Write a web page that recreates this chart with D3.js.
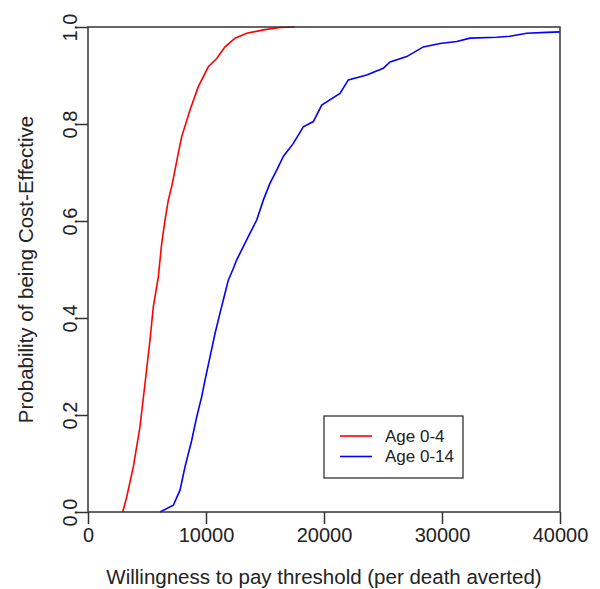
<!DOCTYPE html>
<html>
<head>
<meta charset="utf-8">
<script src="https://cdn.jsdelivr.net/npm/d3@7"></script>
<style>
  body { margin: 0; background: #fff; }
  svg { font-family: "Liberation Sans", Arial, sans-serif; }
</style>
</head>
<body>
<svg id="myGraph" width="600" height="589"></svg>
<script>
// values
var seriesNames = ['Age 0-4', 'Age 0-14'];
var seriesColors = ['#ff0000', '#0000ff'];

var wtpAge4 = [2941, 3280, 3839, 4407, 4831, 5255, 5534, 5958, 6246, 6526, 6805, 7119,
  7653, 7941, 8645, 9348, 10195, 10907, 11611, 12458, 13450, 14857, 16272, 17543];
var probAge4 = [0, 0.031, 0.093, 0.176, 0.265, 0.355, 0.423, 0.485, 0.554, 0.602, 0.643, 0.674,
  0.740, 0.774, 0.829, 0.877, 0.918, 0.935, 0.959, 0.977, 0.987, 0.994, 0.999, 1.0];

var wtpAge14 = [6102, 7229, 7797, 8221, 8789, 9212, 9636, 9916, 10340, 10763, 11187, 11611,
  11890, 12314, 12602, 13162, 13730, 14297, 14857, 15425, 15993, 16552, 17400, 18247,
  19095, 19806, 21357, 22060, 23620, 25027, 25595, 27010, 28417, 29832, 31248, 32375,
  34638, 35765, 37180, 38875, 40000];
var probAge14 = [0, 0.014, 0.045, 0.093, 0.148, 0.196, 0.238, 0.272, 0.320, 0.368, 0.410, 0.451,
  0.478, 0.502, 0.520, 0.547, 0.575, 0.602, 0.643, 0.678, 0.705, 0.733, 0.760, 0.794,
  0.805, 0.839, 0.863, 0.891, 0.901, 0.915, 0.928, 0.939, 0.959, 0.966, 0.970, 0.977,
  0.979, 0.981, 0.987, 0.989, 0.990];

var xTicks = [0, 10000, 20000, 30000, 40000];
var yTicks = [0, 0.2, 0.4, 0.6, 0.8, 1.0];

var margin = { left: 88, right: 40, top: 27, bottom: 77 };
var svgWidth = 600;
var svgHeight = 589;

var svg = d3.select('#myGraph');

var x = d3.scaleLinear().domain([0, 40000]).range([margin.left, svgWidth - margin.right]);
var y = d3.scaleLinear().domain([0, 1]).range([svgHeight - margin.bottom, margin.top]);

var series = [
  { name: seriesNames[0], color: seriesColors[0], xs: wtpAge4, ys: probAge4 },
  { name: seriesNames[1], color: seriesColors[1], xs: wtpAge14, ys: probAge14 }
];

var line = d3.line()
  .x(function(d) { return x(d[0]); })
  .y(function(d) { return y(d[1]); });

svg.selectAll('path.curve')
  .data(series)
  .enter()
  .append('path')
  .attr('class', 'curve')
  .attr('fill', 'none')
  .attr('stroke', function(d) { return d.color; })
  .attr('stroke-width', 1.6)
  .attr('d', function(d) {
    return line(d.xs.map(function(v, i) { return [v, d.ys[i]]; }));
  });

// frame
svg.append('rect')
  .attr('x', x(0))
  .attr('y', y(1))
  .attr('width', x(40000) - x(0))
  .attr('height', y(0) - y(1))
  .attr('fill', 'none')
  .attr('stroke', '#333')
  .attr('stroke-width', 1.5);

var xAxis = svg.append('g')
  .attr('transform', 'translate(0,' + y(0) + ')')
  .call(d3.axisBottom(x).tickValues(xTicks).tickFormat(d3.format('d')).tickSize(12).tickPadding(4));

var yAxis = svg.append('g')
  .attr('transform', 'translate(' + x(0) + ',0)')
  .call(d3.axisLeft(y).tickValues(yTicks).tickFormat(d3.format('.1f')).tickSize(12));

[xAxis, yAxis].forEach(function(g) {
  g.select('.domain').remove();
  g.selectAll('.tick line').attr('stroke', '#333').attr('stroke-width', 1.5);
  g.selectAll('.tick text')
    .attr('fill', '#222')
    .style('font-size', '20px');
});

yAxis.selectAll('.tick text')
  .attr('x', null)
  .attr('dy', null)
  .attr('text-anchor', 'middle')
  .attr('transform', 'translate(-11,0) rotate(-90)');

// axis titles
svg.append('text')
  .attr('x', (x(0) + x(40000)) / 2)
  .attr('y', 584)
  .attr('text-anchor', 'middle')
  .attr('fill', '#222')
  .style('font-size', '20.5px')
  .text('Willingness to pay threshold (per death averted)');

svg.append('text')
  .attr('transform', 'translate(33,' + ((y(0) + y(1)) / 2) + ') rotate(-90)')
  .attr('text-anchor', 'middle')
  .attr('fill', '#222')
  .style('font-size', '20.5px')
  .text('Probability of being Cost-Effective');

// legend
var legend = svg.append('g').attr('transform', 'translate(324,416)');
legend.append('rect')
  .attr('width', 139)
  .attr('height', 62)
  .attr('fill', '#fff')
  .attr('stroke', '#222')
  .attr('stroke-width', 1.2);

var items = legend.selectAll('g.item')
  .data(series)
  .enter()
  .append('g')
  .attr('class', 'item')
  .attr('transform', function(d, i) { return 'translate(0,' + (20 + i * 20.5) + ')'; });

items.append('line')
  .attr('x1', 16).attr('x2', 48)
  .attr('stroke', function(d) { return d.color; })
  .attr('stroke-width', 1.6);

items.append('text')
  .attr('x', 61)
  .attr('dy', '0.35em')
  .attr('fill', '#222')
  .style('font-size', '17px')
  .text(function(d) { return d.name; });
</script>
</body>
</html>
